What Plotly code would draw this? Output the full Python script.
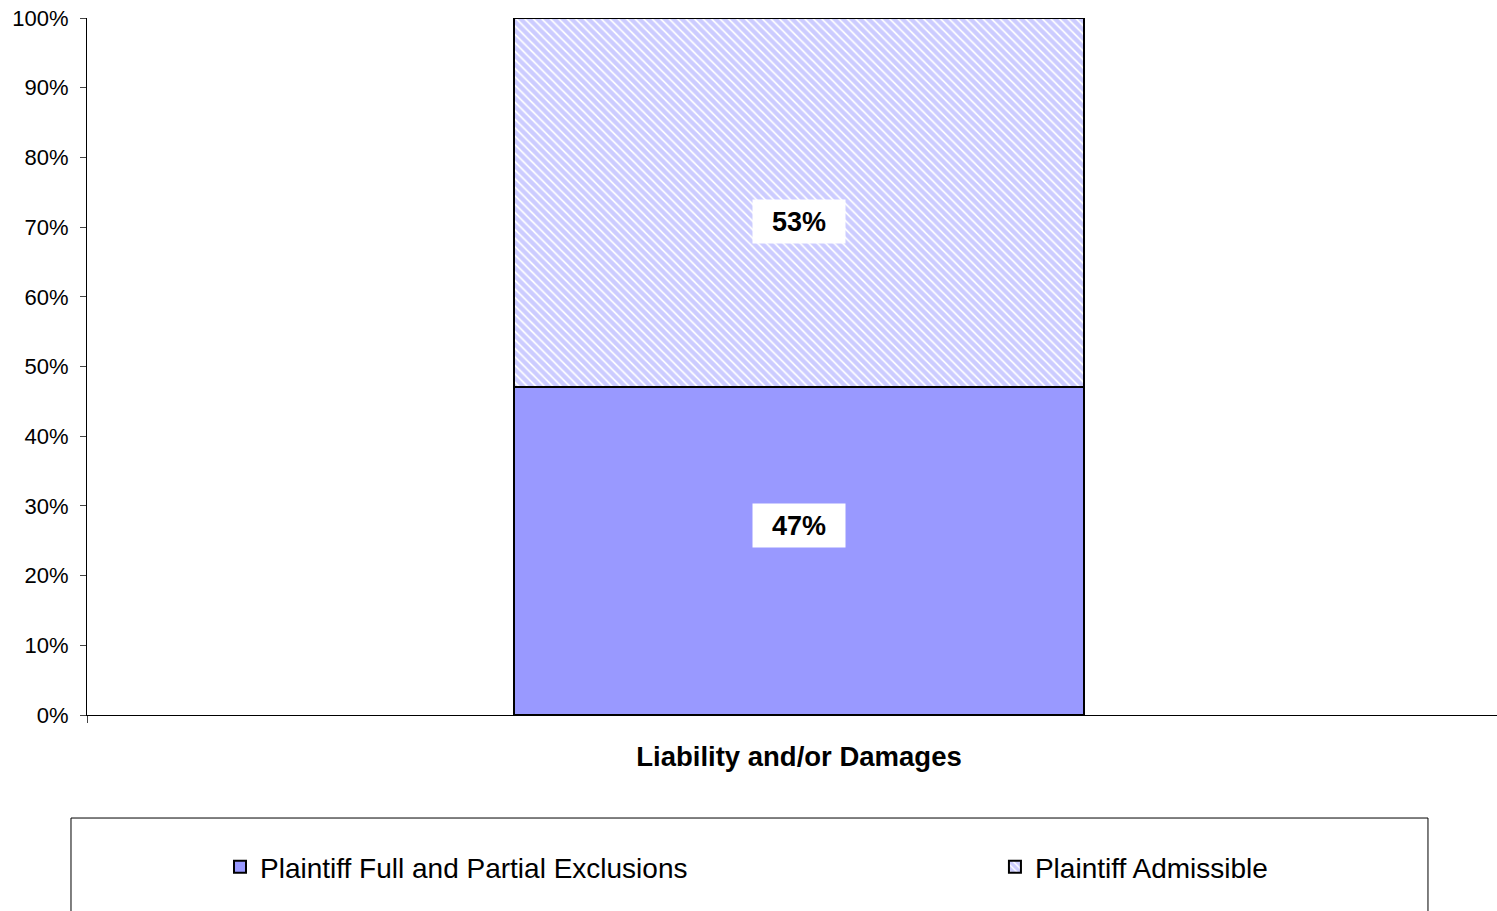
import plotly.graph_objects as go

# data
categories = ["Liability and/or Damages"]
series_names = ["Plaintiff Full and Partial Exclusions", "Plaintiff Admissible"]
exclusions = [0.47]
admissible = [0.53]
y_ticks = [0, 0.1, 0.2, 0.3, 0.4, 0.5, 0.6, 0.7, 0.8, 0.9, 1.0]

BAR_BLUE = "#9999FF"
FONT = "Liberation Sans, Arial, sans-serif"

fig = go.Figure()
fig.add_trace(go.Bar(
    x=categories, y=exclusions, name=series_names[0],
    width=0.4, legend="legend",
    marker=dict(color=BAR_BLUE, line=dict(color="black", width=2)),
))
fig.add_trace(go.Bar(
    x=categories, y=admissible, name=series_names[1],
    width=0.4, legend="legend2",
    marker=dict(
        color="white",
        line=dict(color="black", width=2),
        pattern=dict(shape="\\", fgcolor=BAR_BLUE, bgcolor="white",
                     size=6, solidity=0.7, fillmode="overlay"),
    ),
))

# value labels in white boxes, centred on each segment
base = 0
for vals, shift in [(exclusions, 26), (admissible, -19)]:
    for cat, v in zip(categories, vals):
        fig.add_annotation(
            x=cat, y=base + v / 2, text=f"<b>{v:.0%}</b>",
            showarrow=False, yshift=shift,
            font=dict(family=FONT, size=27, color="black"),
            bgcolor="white", borderpad=0, width=92, height=43,
        )
    base += vals[0]

# legend frame
fig.add_shape(type="rect", xref="paper", yref="paper",
              x0=-0.01124, x1=0.9417, y0=-0.1478, y1=-0.32,
              line=dict(color="black", width=1), fillcolor="white", layer="below")

legend_common = dict(
    orientation="h", y=-0.218, xanchor="left", yanchor="middle",
    font=dict(family=FONT, size=28), bgcolor="rgba(0,0,0,0)",
)

fig.update_layout(
    barmode="stack",
    width=1511, height=911,
    paper_bgcolor="white", plot_bgcolor="white",
    margin=dict(l=87, r=0, t=18, b=196),
    font=dict(family=FONT, size=22, color="black"),
    showlegend=True,
    legend=dict(x=0.0934, **legend_common),
    legend2=dict(x=0.6376, **legend_common),
    xaxis=dict(
        title=dict(text="<b>Liability and/or Damages</b>", font=dict(size=27.5), standoff=31),
        showticklabels=False, ticks="outside", tickson="boundaries", ticklen=7,
        showline=True, linecolor="black", linewidth=1, range=[-0.5, 0.5],
    ),
    yaxis=dict(
        range=[0, 1], tickvals=y_ticks, tickformat=".0%",
        ticks="outside", ticklen=6, showgrid=False, zeroline=False,
        showline=True, linecolor="black", linewidth=1,
        tickfont=dict(size=22), ticklabelstandoff=7,
    ),
)

# drop the default page margin so the figure sits at the window corner
fig.write_html("out.html", config={"displayModeBar": False},
               post_script="document.body.style.margin='0';")
